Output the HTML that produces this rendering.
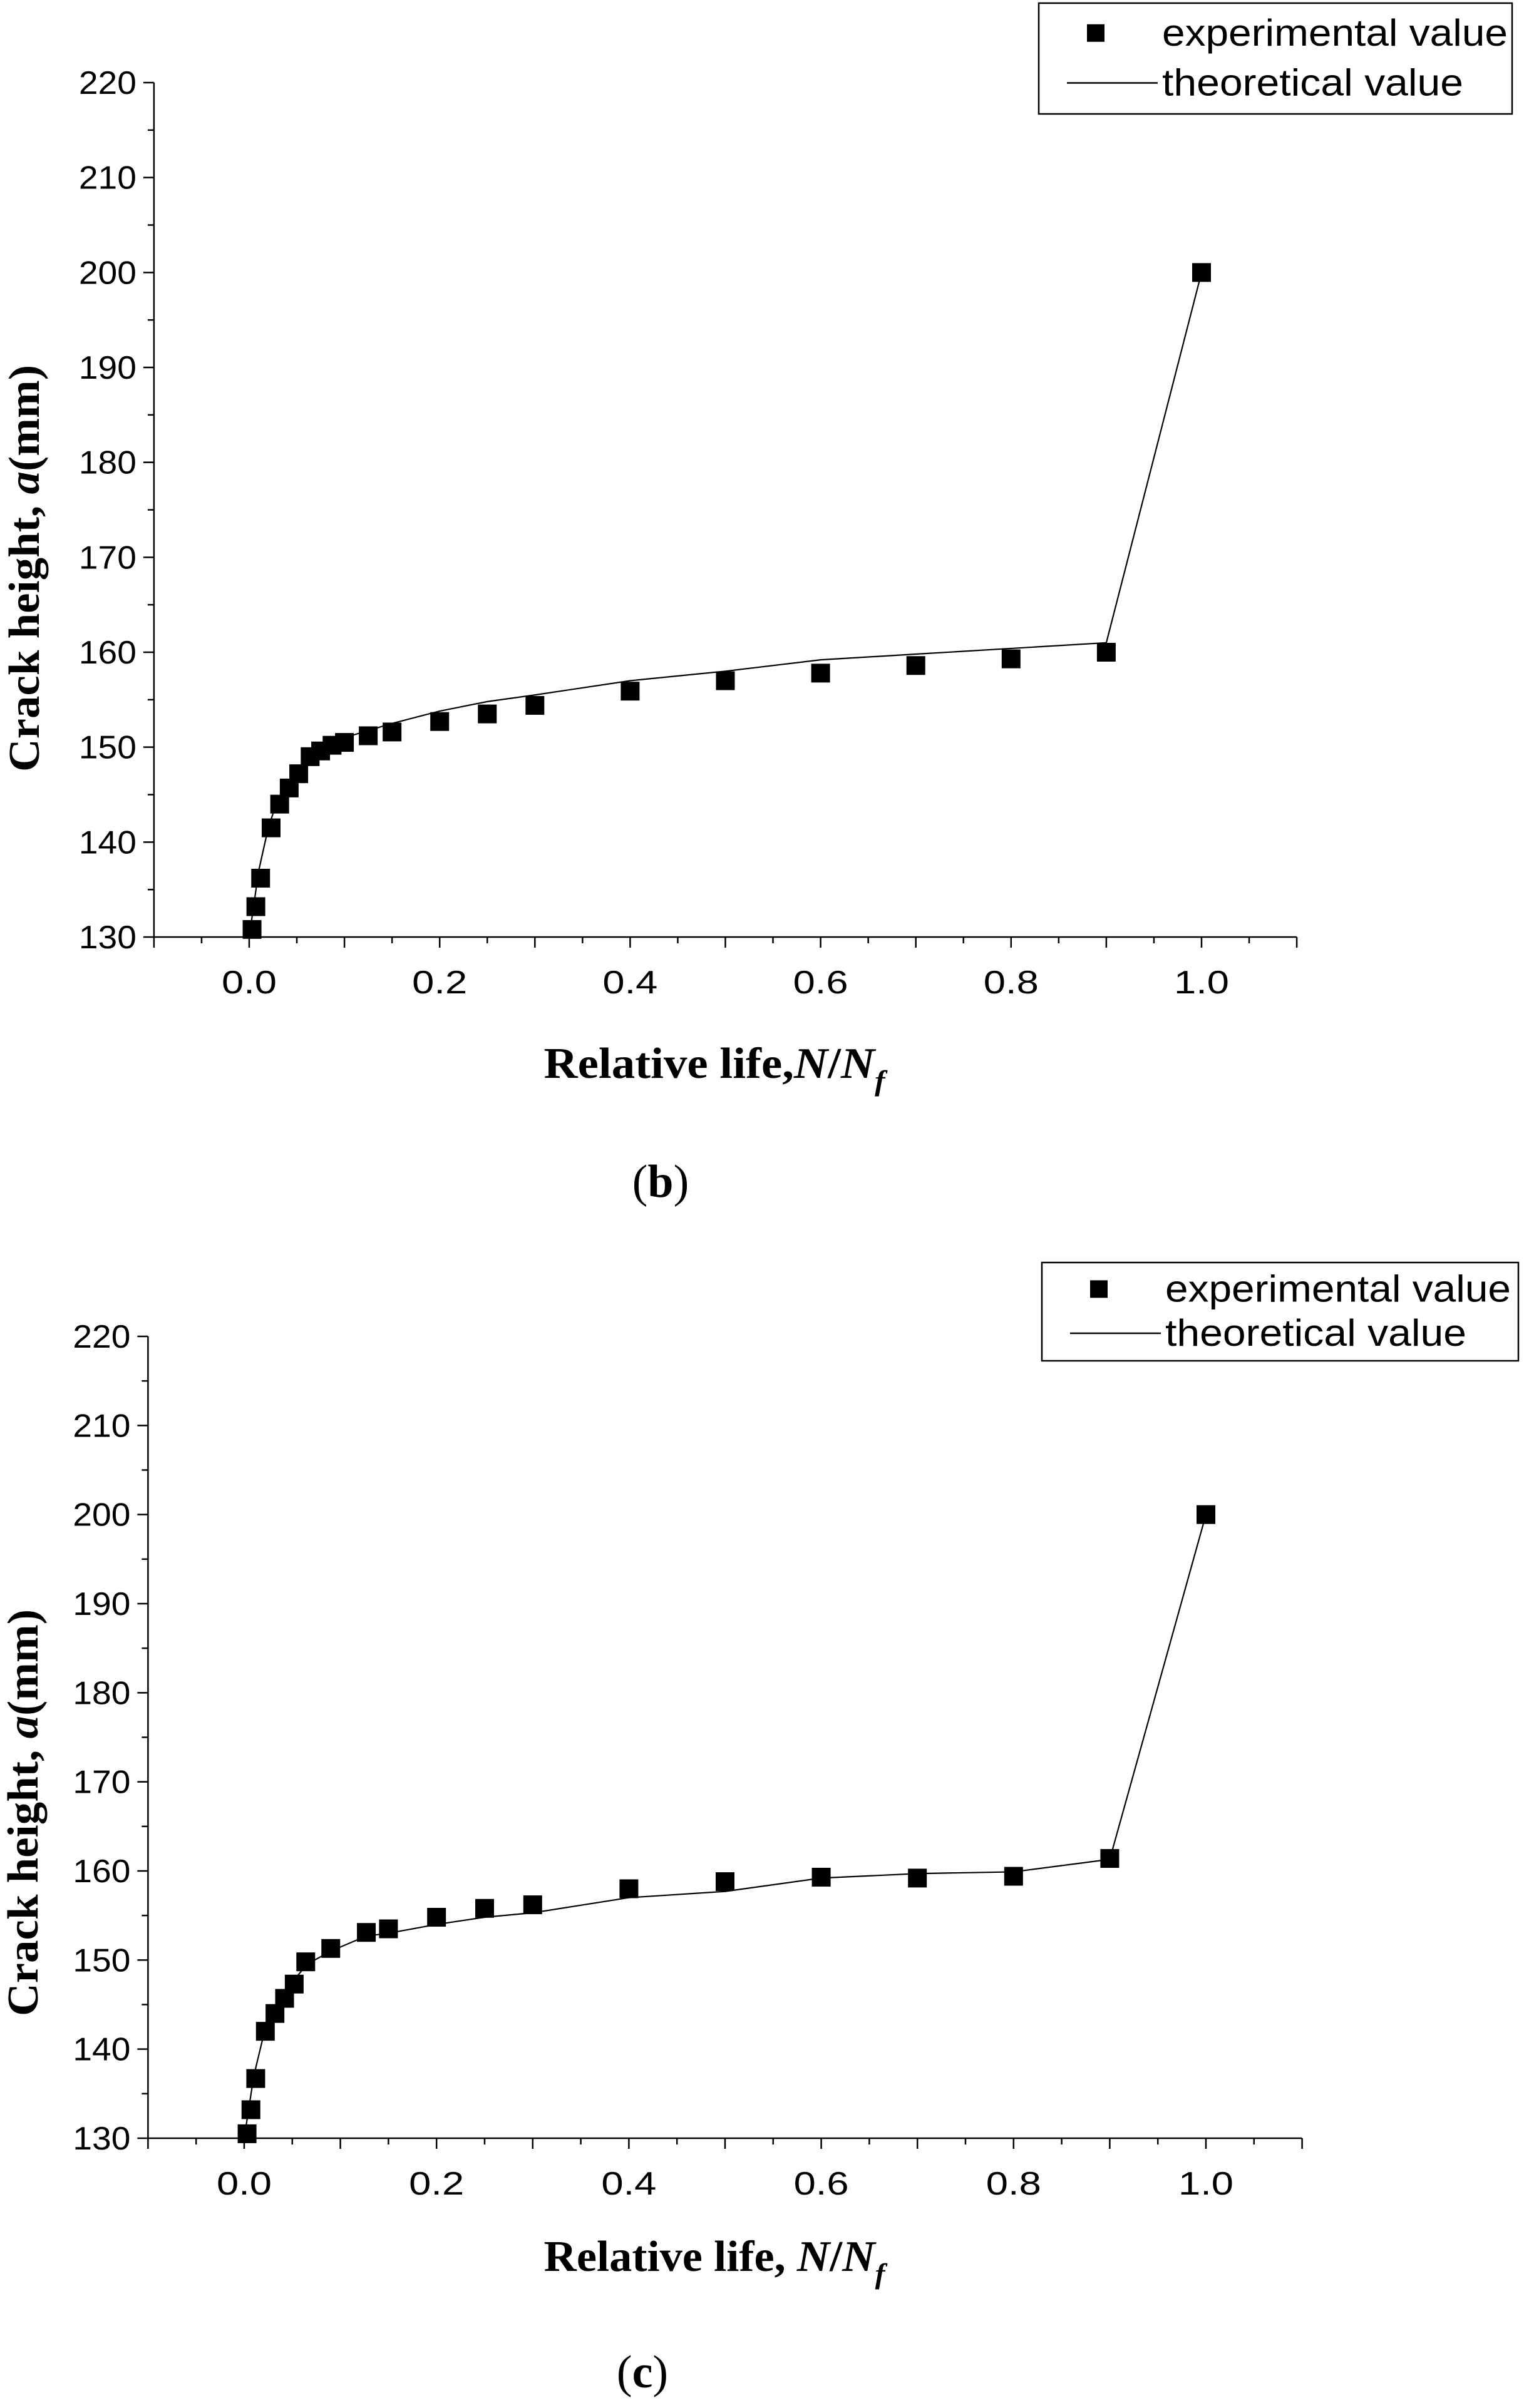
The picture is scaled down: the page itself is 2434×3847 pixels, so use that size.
<!DOCTYPE html>
<html><head><meta charset="utf-8"><style>
html,body{margin:0;padding:0;background:#fff}
svg{display:block}
</style></head><body>
<svg id="fig" width="2434" height="3847" viewBox="0 0 2434 3847" xmlns="http://www.w3.org/2000/svg"></svg>
<script>
const xTicks = [0.0,0.2,0.4,0.6,0.8,1.0];
const xTickLabels = ["0.0","0.2","0.4","0.6","0.8","1.0"];
const yTicks = [130,140,150,160,170,180,190,200,210,220];
const yTickLabels = ["130","140","150","160","170","180","190","200","210","220"];

const expBX = [0.003,0.007,0.012,0.023,0.032,0.042,0.052,0.064,0.075,0.087,0.1,0.125,0.15,0.2,0.25,0.3,0.4,0.5,0.6,0.7,0.8,0.9,1.0];
const expBY = [130.8,133.2,136.2,141.5,144,145.7,147.2,149,149.6,150.2,150.5,151.2,151.6,152.7,153.5,154.4,155.9,157,157.8,158.6,159.3,160,200];
const thBX = [0,0.01,0.02,0.03,0.05,0.07,0.1,0.15,0.2,0.25,0.3,0.4,0.5,0.6,0.7,0.8,0.9,1.0];
const thBY = [130,137,141.5,144.5,147.5,149.5,151,152.5,153.8,154.8,155.5,157,158,159.2,159.8,160.4,161,200];

const expCX = [0.003,0.007,0.012,0.022,0.032,0.042,0.052,0.064,0.09,0.127,0.15,0.2,0.25,0.3,0.4,0.5,0.6,0.7,0.8,0.9,1.0];
const expCY = [130.5,133.2,136.7,142,144,145.7,147.3,149.8,151.3,153.1,153.5,154.8,155.8,156.2,158,158.8,159.3,159.2,159.4,161.4,200];
const thCX = [0,0.01,0.02,0.03,0.05,0.065,0.09,0.127,0.15,0.2,0.25,0.3,0.4,0.5,0.6,0.7,0.8,0.9,1.0];
const thCY = [130,137,141.5,144,147.5,149.5,151,152.7,153,154,154.8,155.3,157,157.7,159.2,159.7,159.9,161.3,200];

const NS = "http://www.w3.org/2000/svg";
const svg = document.getElementById('fig');
function mk(tag, attrs, parent){const e=document.createElementNS(NS,tag);for(const k in attrs)e.setAttribute(k,attrs[k]);(parent||svg).appendChild(e);return e;}

function panel(p){
  const g = mk('g',{});
  
  
  const sx = v => p.x0 + v*(p.x1-p.x0);
  const sy = v => p.y130 + (v-130)/90*(p.y220-p.y130);
  const left = sx(-0.1), right = sx(1.1);
  const ya = mk('line',{x1:left,y1:p.y220,x2:left,y2:p.y130,stroke:'#000','stroke-width':2.5},g);
  
  
  const xa = mk('line',{x1:left,y1:p.y130,x2:right,y2:p.y130,stroke:'#000','stroke-width':2.5},g);
  
  
  for(let v=130; v<=220; v+=5){
    const major = v%10===0;
    mk('line',{x1:left-(major?17:10),y1:sy(v),x2:left,y2:sy(v),stroke:'#000','stroke-width':2.5},g);
  }
  yTicks.forEach((v,i)=>{
    const t = mk('text',{x:left-28,y:sy(v)+18,'text-anchor':'end','font-family':'Liberation Sans, sans-serif','font-size':52,textLength:92,lengthAdjust:'spacingAndGlyphs'},g);
    t.textContent = yTickLabels[i];
    
    
  });
  for(let k=-2;k<=22;k++){
    const v=k*0.05, major = k%2===0;
    mk('line',{x1:sx(v),y1:p.y130,x2:sx(v),y2:p.y130+(major?17:10),stroke:'#000','stroke-width':2.5},g);
  }
  xTicks.forEach((v,i)=>{
    const t = mk('text',{x:sx(v),y:p.y130+90,'text-anchor':'middle','font-family':'Liberation Sans, sans-serif','font-size':52,textLength:88,lengthAdjust:'spacingAndGlyphs'},g);
    t.textContent = xTickLabels[i];
    
    
  });
  const pts = p.tx.map((x,i)=>sx(x)+','+sy(p.ty[i])).join(' ');
  const pl = mk('polyline',{points:pts,fill:'none',stroke:'#000','stroke-width':2.2},g);
  
  
  p.ex.forEach((x,i)=>{
    const r = mk('rect',{x:sx(x)-15,y:sy(p.ey[i])-15,width:30,height:30,fill:'#000'},g);
    
    
  });
  const yt = mk('text',{x:0,y:0,transform:`translate(${p.ytx},${p.yty}) rotate(-90)`,'text-anchor':'middle','font-family':'Liberation Serif, serif','font-size':70,'font-weight':'bold',textLength:650,lengthAdjust:'spacingAndGlyphs'},g);
  yt.innerHTML = 'Crack height, <tspan font-style="italic">a</tspan>(mm)';
  
  
  const xt = mk('text',{x:1141,y:p.xty,'text-anchor':'middle','font-family':'Liberation Serif, serif','font-size':70,'font-weight':'bold',textLength:545,lengthAdjust:'spacingAndGlyphs'},g);
  xt.innerHTML = p.xtitle+'<tspan font-style="italic">N</tspan>/<tspan font-style="italic">N</tspan><tspan font-style="italic" font-size="46" dy="20">f</tspan>';
  
  
  const lg = mk('g',{},g);
  
  
  const L=p.leg;
  mk('rect',{x:L[0],y:L[1],width:L[2]-L[0],height:L[3]-L[1],fill:'#fff',stroke:'#000','stroke-width':2.5},lg);
  const h=(L[3]-L[1]);
  mk('rect',{x:L[0]+77,y:L[1]+h*0.27-14,width:28,height:28,fill:'#000'},lg);
  mk('line',{x1:L[0]+45,y1:L[1]+h*0.72,x2:L[0]+190,y2:L[1]+h*0.72,stroke:'#000','stroke-width':2.5},lg);
  const t1=mk('text',{x:L[0]+197,y:L[1]+h*0.27+20,'font-family':'Liberation Sans, sans-serif','font-size':60,textLength:552,lengthAdjust:'spacingAndGlyphs'},lg);
  t1.textContent='experimental value';
  
  
  const t2=mk('text',{x:L[0]+197,y:L[1]+h*0.72+20,'font-family':'Liberation Sans, sans-serif','font-size':60,textLength:481,lengthAdjust:'spacingAndGlyphs'},lg);
  t2.textContent='theoretical value';
  
  
  const cp = mk('text',{x:p.capx,y:p.capy,'text-anchor':'middle','font-family':'Liberation Serif, serif','font-size':74},g);
  cp.innerHTML = '(<tspan font-weight="bold">'+p.id+'</tspan>)';
  
  
}

panel({id:'b',x0:398,x1:1919,y220:132,y130:1497,ex:expBX,ey:expBY,tx:thBX,ty:thBY,
  ytx:62,yty:908,xty:1722,xtitle:'Relative life,',leg:[1659,5,2415,182],capx:1055,capy:1912});
panel({id:'c',x0:390,x1:1926,y220:2135,y130:3416,ex:expCX,ey:expCY,tx:thCX,ty:thCY,
  ytx:60,yty:2896,xty:3628,xtitle:'Relative life, ',leg:[1664,2017,2425,2174],capx:1026,capy:3814});
</script>
</body></html>
